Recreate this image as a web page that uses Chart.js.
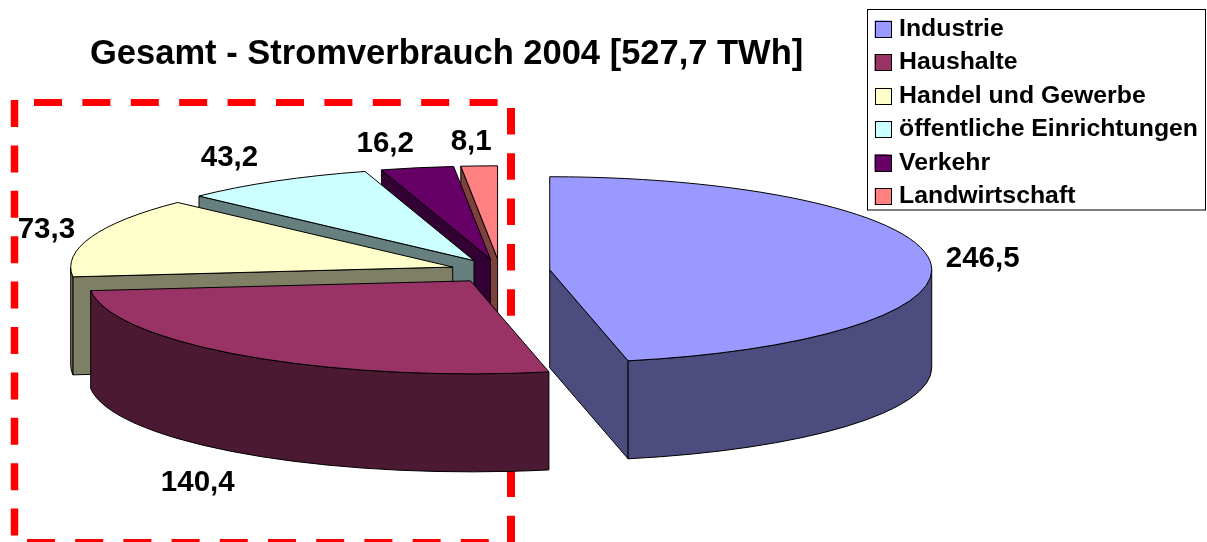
<!DOCTYPE html>
<html>
<head>
<meta charset="utf-8">
<style>html,body{margin:0;padding:0;background:#fff}canvas{display:block}</style>
<script src="https://cdn.jsdelivr.net/npm/chart.js@4/dist/chart.umd.js"></script>
</head>
<body>
<canvas id="c" width="1207" height="542"></canvas>
<script>
const categories = ['Industrie','Haushalte','Handel und Gewerbe','öffentliche Einrichtungen','Verkehr','Landwirtschaft'];
const values = [246.5,140.4,73.3,43.2,16.2,8.1];
const valueLabels = ['246,5','140,4','73,3','43,2','16,2','8,1'];
const colors = ['#9999FF','#993366','#FFFFCC','#CCFFFF','#660066','#FF8080'];
const titleText = 'Gesamt - Stromverbrauch 2004 [527,7 TWh]';

const FONT = '"Liberation Sans", Arial, sans-serif';
const CX = 500, CY = 271, R = 382, K = 0.2435, DEPTH = 98, EXPLODE = 50;
const labelShift = [[53,-1],[-48,127],[-45,-7],[-46,-23],[-32,-24],[-8,-24]];

function darker(hex){
  const n = parseInt(hex.slice(1),16);
  return 'rgb(' + ((n>>16&255)>>1) + ',' + ((n>>8&255)>>1) + ',' + ((n&255)>>1) + ')';
}
function apex(arc){
  const m = (arc.startAngle + arc.endAngle)/2;
  return {x: CX + Math.cos(m)*EXPLODE, y: CY + Math.sin(m)*EXPLODE*K};
}
function rim(a, ang){ return {x: a.x + Math.cos(ang)*R, y: a.y + Math.sin(ang)*R*K}; }

function dashed(ctx, x0,y0,x1,y1, w, on, off){
  ctx.save();
  ctx.strokeStyle = '#FF0000'; ctx.lineWidth = w; ctx.setLineDash([on,off]);
  ctx.beginPath(); ctx.moveTo(x0,y0); ctx.lineTo(x1,y1); ctx.stroke();
  ctx.restore();
}

const pie3d = {
  id: 'pie3d',
  beforeDatasetsDraw(chart){
    const ctx = chart.ctx;
    dashed(ctx, 34,102.5,510,102.5, 7, 28,20.4);
    dashed(ctx, 14.5,100,14.5,542, 7.5, 27,18.4);
    dashed(ctx, 511,108,511,542, 8, 26.5,18.8);
    dashed(ctx, 27,542.5,507,542.5, 7, 28,20.2);

    const arcs = chart.getDatasetMeta(0).data;
    ctx.save();
    ctx.lineJoin = 'round';
    for (let i = arcs.length-1; i >= 0; i--){
      const arc = arcs[i], a = apex(arc), s = arc.startAngle, e = arc.endAngle;
      const wall = darker(colors[i]);
      ctx.strokeStyle = '#000'; ctx.lineWidth = 1; ctx.fillStyle = wall;
      const cuts = [];
      if (Math.cos(s) < -1e-6) cuts.push(s);
      if (Math.cos(e) > 1e-6) cuts.push(e);
      cuts.forEach(ang=>{
        const p = rim(a,ang);
        ctx.beginPath();
        ctx.moveTo(a.x,a.y); ctx.lineTo(p.x,p.y); ctx.lineTo(p.x,p.y+DEPTH); ctx.lineTo(a.x,a.y+DEPTH);
        ctx.closePath(); ctx.fill(); ctx.stroke();
      });
      const lo = Math.max(s,0), hi = Math.min(e,Math.PI);
      if (hi > lo){
        ctx.beginPath();
        ctx.ellipse(a.x,a.y,R,R*K,0,lo,hi,false);
        ctx.ellipse(a.x,a.y+DEPTH,R,R*K,0,hi,lo,true);
        ctx.closePath(); ctx.fill(); ctx.stroke();
      }
      ctx.save();
      ctx.translate(a.x,a.y); ctx.scale(1,K); ctx.translate(-arc.x,-arc.y);
      arc.draw(ctx);
      ctx.restore();
      ctx.beginPath();
      ctx.moveTo(a.x,a.y);
      ctx.ellipse(a.x,a.y,R,R*K,0,s,e,false);
      ctx.closePath(); ctx.stroke();
    }
    ctx.restore();
    return false;
  },
  afterDraw(chart){
    const ctx = chart.ctx;
    const arcs = chart.getDatasetMeta(0).data;
    ctx.save();
    ctx.fillStyle = '#000';
    ctx.font = 'bold 29.5px ' + FONT;
    ctx.textAlign = 'center'; ctx.textBaseline = 'middle';
    arcs.forEach((arc,i)=>{
      const a = apex(arc), p = rim(a,(arc.startAngle+arc.endAngle)/2);
      ctx.fillText(valueLabels[i], p.x+labelShift[i][0], p.y+labelShift[i][1]);
    });
    ctx.strokeStyle = '#000'; ctx.lineWidth = 1;
    ctx.strokeRect(867.5,9.5,338,200.5);
    chart.legend.legendHitBoxes.forEach((h,i)=>{
      ctx.fillStyle = colors[i];
      const y = h.top + h.height/2 - 8.5;
      ctx.fillRect(h.left,y,17,17);
      ctx.strokeRect(Math.round(h.left)+.5,Math.round(y)+.5,16,16);
    });
    ctx.restore();
  }
};

Chart.defaults.font.family = FONT;
new Chart(document.getElementById('c'), {
  type: 'pie',
  plugins: [pie3d],
  data: {
    labels: categories,
    datasets: [{ data: values, backgroundColor: colors, borderWidth: 0, radius: R, clip: false }]
  },
  options: {
    responsive: false,
    animation: false,
    layout: { padding: { left: 90, top: 7.9, right: -1, bottom: 0 } },
    plugins: {
      tooltip: { enabled: false },
      title: {
        display: true, text: titleText, align: 'start', color: '#000',
        font: { size: 34.5, weight: 'bold', family: FONT }, padding: { top: 25.4, bottom: 4 }
      },
      legend: {
        display: true, position: 'right', align: 'start',
        labels: {
          color: '#000', boxWidth: 12, boxHeight: 17, padding: 8.7,
          font: { size: 24.8, weight: 'bold', family: FONT }
        }
      }
    }
  }
});
</script>
</body>
</html>
